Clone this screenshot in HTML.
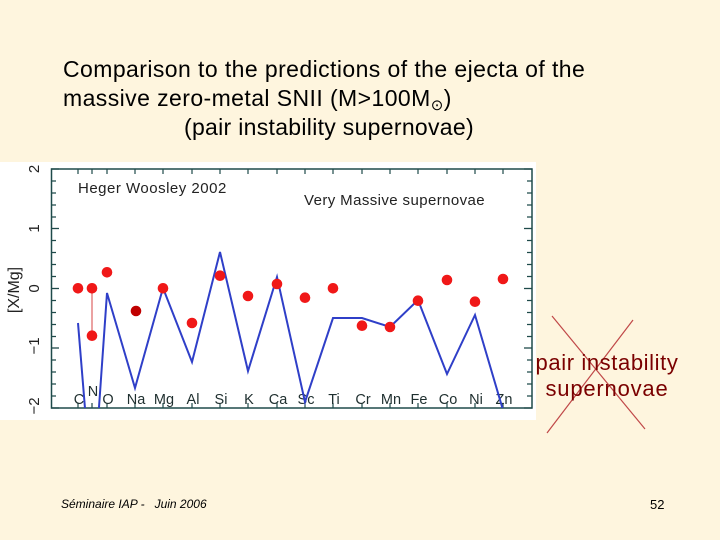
<!DOCTYPE html>
<html><head><meta charset="utf-8">
<style>
html,body{margin:0;padding:0;}
body{width:720px;height:540px;background:#FEF5DE;overflow:hidden;position:relative;font-family:"Liberation Sans",sans-serif;}
svg{position:absolute;left:0;top:0;}
</style></head>
<body>
<svg width="720" height="540" viewBox="0 0 720 540" xmlns="http://www.w3.org/2000/svg">
<rect x="0" y="0" width="720" height="540" fill="#FEF5DE"/>
<!-- Title -->
<g font-family="Liberation Sans, sans-serif" font-size="23" fill="#000" letter-spacing="0.42">
<text x="63" y="77">Comparison to the predictions of the ejecta of the</text>
<text x="63" y="106">massive zero-metal SNII (M&gt;100M<tspan font-size="15" dy="4">⊙</tspan><tspan dy="-4">)</tspan></text>
<text x="184" y="135" letter-spacing="0.3">(pair instability supernovae)</text>
</g>
<!-- plot image -->
<rect x="0" y="162" width="536" height="258" fill="#ffffff"/>
<defs><clipPath id="pc"><rect x="51" y="169" width="481" height="239"/></clipPath></defs>
<g stroke="#1f4a4a" stroke-width="1.5" fill="none">
<rect x="51.5" y="169" width="480.5" height="239"/>
</g>
<g id="ticks" stroke="#1f4a4a" stroke-width="1.3">
<line x1="51" y1="169" x2="59" y2="169"/><line x1="51" y1="228.5" x2="59" y2="228.5"/><line x1="51" y1="288.5" x2="59" y2="288.5"/><line x1="51" y1="348" x2="59" y2="348"/><line x1="51" y1="408" x2="59" y2="408"/>
<line x1="532" y1="169" x2="524" y2="169"/><line x1="532" y1="228.5" x2="524" y2="228.5"/><line x1="532" y1="288.5" x2="524" y2="288.5"/><line x1="532" y1="348" x2="524" y2="348"/><line x1="532" y1="408" x2="524" y2="408"/>
</g>
<g stroke="#1f4a4a" stroke-width="1.2">
<path d="M51 181h5M51 193h5M51 205h5M51 217h5M51 240.5h5M51 252.5h5M51 264.5h5M51 276.5h5M51 300.5h5M51 312.5h5M51 324.5h5M51 336.5h5M51 360h5M51 372h5M51 384h5M51 396h5"/>
<path d="M532 181h-5M532 193h-5M532 205h-5M532 217h-5M532 240.5h-5M532 252.5h-5M532 264.5h-5M532 276.5h-5M532 300.5h-5M532 312.5h-5M532 324.5h-5M532 336.5h-5M532 360h-5M532 372h-5M532 384h-5M532 396h-5"/>
<path d="M78 169v5M92 169v5M107 169v5M135 169v5M163 169v5M192 169v5M220 169v5M248 169v5M277 169v5M305 169v5M333 169v5M362 169v5M390 169v5M418 169v5M447 169v5M475 169v5M503 169v5"/>
<path d="M78 408v-5M92 408v-5M107 408v-5M135 408v-5M163 408v-5M192 408v-5M220 408v-5M248 408v-5M277 408v-5M305 408v-5M333 408v-5M362 408v-5M390 408v-5M418 408v-5M447 408v-5M475 408v-5M503 408v-5"/>
</g>
<!-- y labels -->
<g font-family="Liberation Sans, sans-serif" font-size="15" fill="#222" text-anchor="middle">
<text transform="translate(39,169) rotate(-90)">2</text>
<text transform="translate(39,228.5) rotate(-90)">1</text>
<text transform="translate(39,288.5) rotate(-90)">0</text>
<text transform="translate(39,346) rotate(-90)">−1</text>
<text transform="translate(39,406) rotate(-90)">−2</text>
<text transform="translate(19,290) rotate(-90)" font-size="16">[X/Mg]</text>
</g>
<!-- annotations -->
<g font-family="Liberation Sans, sans-serif" font-size="15" fill="#222">
<text x="78" y="193" letter-spacing="0.5">Heger Woosley 2002</text>
<text x="304" y="205" letter-spacing="0.4">Very Massive supernovae</text>
</g>
<!-- element labels -->
<g font-family="Liberation Sans, sans-serif" font-size="14.5" fill="#1f2f2f" text-anchor="middle">
<text x="79" y="404">C</text><text x="93" y="396">N</text><text x="108" y="404">O</text><text x="136" y="404">Na</text><text x="164" y="404">Mg</text><text x="193" y="404">Al</text><text x="221" y="404">Si</text><text x="249" y="404">K</text><text x="278" y="404">Ca</text><text x="306" y="404">Sc</text><text x="334" y="404">Ti</text><text x="363" y="404">Cr</text><text x="391" y="404">Mn</text><text x="419" y="404">Fe</text><text x="448" y="404">Co</text><text x="476" y="404">Ni</text><text x="504" y="404">Zn</text>
</g>
<!-- blue model -->
<g clip-path="url(#pc)" fill="none" stroke="#2f3fc8" stroke-width="2" stroke-linejoin="miter">
<polyline points="78,323 92.5,500 107,293 135,388 163,288 192,362 220,252 248,371 277,277 305,402 333,318 362,318 390,327 418,300 447,374 475,315 503,410"/>
</g>
<!-- N error bar -->
<line x1="92" y1="288" x2="92" y2="336" stroke="#e07070" stroke-width="1.3"/>
<!-- red dots -->
<g fill="#f01818">
<circle cx="78" cy="288.3" r="5.3"/>
<circle cx="92" cy="288.3" r="5.3"/>
<circle cx="92" cy="335.7" r="5.3"/>
<circle cx="107" cy="272.3" r="5.3"/>
<circle cx="163" cy="288.3" r="5.3"/>
<circle cx="192" cy="323" r="5.3"/>
<circle cx="220" cy="275.7" r="5.3"/>
<circle cx="248" cy="296" r="5.3"/>
<circle cx="277" cy="284" r="5.3"/>
<circle cx="305" cy="297.7" r="5.3"/>
<circle cx="333" cy="288.3" r="5.3"/>
<circle cx="362" cy="325.7" r="5.3"/>
<circle cx="390" cy="327" r="5.3"/>
<circle cx="418" cy="300.7" r="5.3"/>
<circle cx="447" cy="280" r="5.3"/>
<circle cx="475" cy="301.7" r="5.3"/>
<circle cx="503" cy="279" r="5.3"/>
</g>
<circle cx="136" cy="311" r="5.3" fill="#c00000"/>
<!-- red X -->
<g stroke="#c04848" stroke-width="1.2">
<line x1="552" y1="316" x2="645" y2="429"/>
<line x1="633" y1="320" x2="547" y2="433"/>
</g>
<g font-family="Liberation Sans, sans-serif" font-size="22" fill="#7a0000" text-anchor="middle">
<text x="607" y="370" letter-spacing="0.6">pair instability</text>
<text x="607" y="396" letter-spacing="0.8">supernovae</text>
</g>
<!-- footer -->
<text x="61" y="508" font-family="Liberation Sans, sans-serif" font-size="12" font-style="italic" fill="#000" xml:space="preserve">Séminaire IAP -   Juin 2006</text>
<text x="650" y="509" font-family="Liberation Sans, sans-serif" font-size="13" fill="#000">52</text>
</svg>
</body></html>
